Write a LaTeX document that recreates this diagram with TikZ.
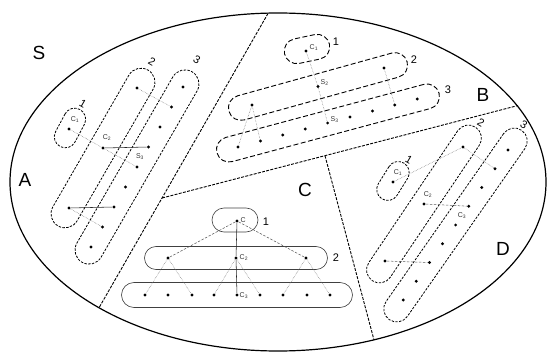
\documentclass[tikz,border=0pt]{standalone}
\usepackage{fontspec}
\setmainfont{Liberation Sans}
\begin{document}
\begin{tikzpicture}[x=1pt,y=-1pt,
  dot/.style={circle,fill=black,inner sep=0pt,minimum size=3.2pt},
  pill/.style={draw,rectangle,inner sep=0pt},
  pillAD/.style={pill,line width=0.8pt,dash pattern=on 2.4pt off 1.4pt},
  pillB/.style={pill,line width=0.9pt,dash pattern=on 5pt off 2.5pt},
  pillC/.style={pill,line width=0.6pt,draw=black!75},
  divider/.style={line width=0.9pt,dash pattern=on 3pt off 1.3pt},
  region/.style={font=\fontsize{19}{22}\selectfont,inner sep=0pt},
  num/.style={font=\fontsize{11}{13}\selectfont,inner sep=0pt},
  tag/.style={font=\fontsize{7}{8}\selectfont,inner sep=0.5pt,text=black!80},
  tedge/.style={black!55,densely dotted,line width=0.5pt},
  sedge/.style={black!85,line width=0.55pt},
  dedge/.style={black!65,dash pattern=on 2.5pt off 1.5pt,line width=0.5pt}
]
\useasboundingbox (0,0) rectangle (550,353);

% outer set S
\draw[line width=1.2pt] (278,182) ellipse [x radius=268, y radius=169];

% dividing lines
\coordinate (l1t) at (268,13.5);
\coordinate (l1b) at (99,307.8);
\coordinate (l2s) at (162.1,198);
\coordinate (l2e) at (518,105.5);
\coordinate (l3s) at (325,155.7);
\coordinate (l3e) at (374,340);
\draw[divider] (l1t) -- (l1b);
\draw[divider] (l2s) -- (l2e);
\draw[divider] (l3s) -- (l3e);

% region labels
\node[region] (lS) at (39,53) {S};
\node[region] (lA) at (25,180) {A};
\node[region] (lB) at (483,95) {B};
\node[region] (lC) at (305,190) {C};
\node[region] (lD) at (503,249) {D};

% ---------------- region A ----------------
\node[pillAD,minimum width=42pt,minimum height=22pt,rounded corners=11pt,rotate=62] (A1) at (70,128) {};
\node[pillAD,minimum width=180pt,minimum height=28pt,rounded corners=14pt,rotate=60] (A2) at (103,148) {};
\node[pillAD,minimum width=220pt,minimum height=28pt,rounded corners=14pt,rotate=60] (A3) at (137,167) {};
\node[dot] (a11) at (69,129) {};
\node[dot] (a21) at (137,88) {};
\node[dot] (a22) at (103,148) {};
\node[dot] (a23) at (69,208) {};
\foreach \i in {1,...,9} \node[dot] (a3\i) at ({183-11.5*(\i-1)},{87+20*(\i-1)}) {};
\node[num,rotate=-30] (nA1) at (83,104) {1};
\node[num,rotate=-30] (nA2) at (152,62) {2};
\node[num,rotate=-30] (nA3) at (197,60) {3};
\node[tag] (tA1) at (75,120) {C\textsubscript{1}};
\node[tag] (tA2) at (107,138) {C\textsubscript{2}};
\node[tag] (tA3) at (140,157) {S\textsubscript{3}};
\draw[tedge] (a11) -- (a22);
\draw[tedge] (a21) -- (a32);
\draw[sedge] (a22) -- (a34);
\draw[tedge] (a22) -- (a35);
\draw[sedge] (a23) -- (a37);
\draw[tedge] (a23) -- (a38);

% ---------------- region B ----------------
\node[pillB,minimum width=46pt,minimum height=25pt,rounded corners=12.5pt,rotate=12] (B1) at (307,49) {};
\node[pillB,minimum width=185pt,minimum height=25pt,rounded corners=12.5pt,rotate=15.5] (B2) at (318,86.5) {};
\node[pillB,minimum width=230pt,minimum height=25pt,rounded corners=12.5pt,rotate=15] (B3) at (328,123) {};
\node[dot] (b11) at (306,51) {};
\node[dot] (b21) at (252,105) {};
\node[dot] (b22) at (318,86.5) {};
\node[dot] (b23) at (384,68) {};
\foreach \i in {1,...,9} \node[dot] (b3\i) at ({238+22.4*(\i-1)},{147-6*(\i-1)}) {};
\node[num] (nB1) at (336,42) {1};
\node[num] (nB2) at (414,60) {2};
\node[num] (nB3) at (448,90) {3};
\node[tag,anchor=west] (tB1) at (309,48) {C\textsubscript{1}};
\node[tag,anchor=south west] (tB2) at (320,86) {S\textsubscript{2}};
\node[tag,anchor=west] (tB3) at (330,120) {S\textsubscript{3}};
\draw[tedge] (b11) -- (b22);
\draw[tedge] (b21) -- (b31);
\draw[tedge] (b21) -- (b32);
\draw[tedge] (b22) -- (b35);
\draw[tedge] (b23) -- (b38);

% ---------------- region C ----------------
\node[pillC,minimum width=46pt,minimum height=24pt,rounded corners=12pt] (C1) at (235,220) {};
\node[pillC,minimum width=183pt,minimum height=23pt,rounded corners=11.5pt] (C2) at (236,258) {};
\node[pillC,minimum width=231pt,minimum height=25pt,rounded corners=12.5pt] (C3) at (237,295) {};
\node[dot] (c11) at (237,221) {};
\node[dot] (c21) at (168,258) {};
\node[dot] (c22) at (236,258) {};
\node[dot] (c23) at (306,258) {};
\foreach \x [count=\i] in {145,168,192,214,237,260,283,307,330} \node[dot] (c3\i) at (\x,295) {};
\node[num] (nC1) at (266,222) {1};
\node[num] (nC2) at (336,258) {2};
\node[tag,anchor=west] (tC1) at (240,220) {C};
\node[tag,anchor=west] (tC2) at (239,258) {C\textsubscript{2}};
\node[tag,anchor=west] (tC3) at (239,296) {C\textsubscript{3}};
\draw[dedge] (c11) -- (c21);
\draw[sedge] (c11) -- (c22);
\draw[dedge] (c11) -- (c23);
\draw[sedge] (c22) -- (c35);
\draw[tedge] (c21) -- (c31);
\draw[tedge] (c21) -- (c33);
\draw[tedge] (c22) -- (c34);
\draw[tedge] (c22) -- (c36);
\draw[tedge] (c23) -- (c37);
\draw[tedge] (c23) -- (c39);

% ---------------- region D ----------------
\node[pillAD,minimum width=42pt,minimum height=22pt,rounded corners=11pt,rotate=58] (D1) at (393,181) {};
\node[pillAD,minimum width=185pt,minimum height=26pt,rounded corners=13pt,rotate=56] (D2) at (424,204) {};
\node[pillAD,minimum width=231pt,minimum height=26pt,rounded corners=13pt,rotate=55] (D3) at (455.5,225) {};
\node[dot] (d11) at (393,182) {};
\node[dot] (d21) at (463,147) {};
\node[dot] (d22) at (424,204) {};
\node[dot] (d23) at (385,261) {};
\foreach \i in {1,...,9} \node[dot] (d3\i) at ({508-13.1*(\i-1)},{150+18.75*(\i-1)}) {};
\node[num,rotate=-30] (nD1) at (409,160) {1};
\node[num,rotate=-30] (nD2) at (481,123) {2};
\node[num,rotate=-30] (nD3) at (524,125) {3};
\node[tag] (tD1) at (398,173) {C\textsubscript{1}};
\node[tag] (tD2) at (428,195) {C\textsubscript{2}};
\node[tag] (tD3) at (462,216) {C\textsubscript{3}};
\draw[tedge] (d11) -- (d21);
\draw[tedge] (d21) -- (d32);
\draw[dedge] (d22) -- (d34);
\draw[dedge] (d23) -- (d37);
\end{tikzpicture}
\end{document}
